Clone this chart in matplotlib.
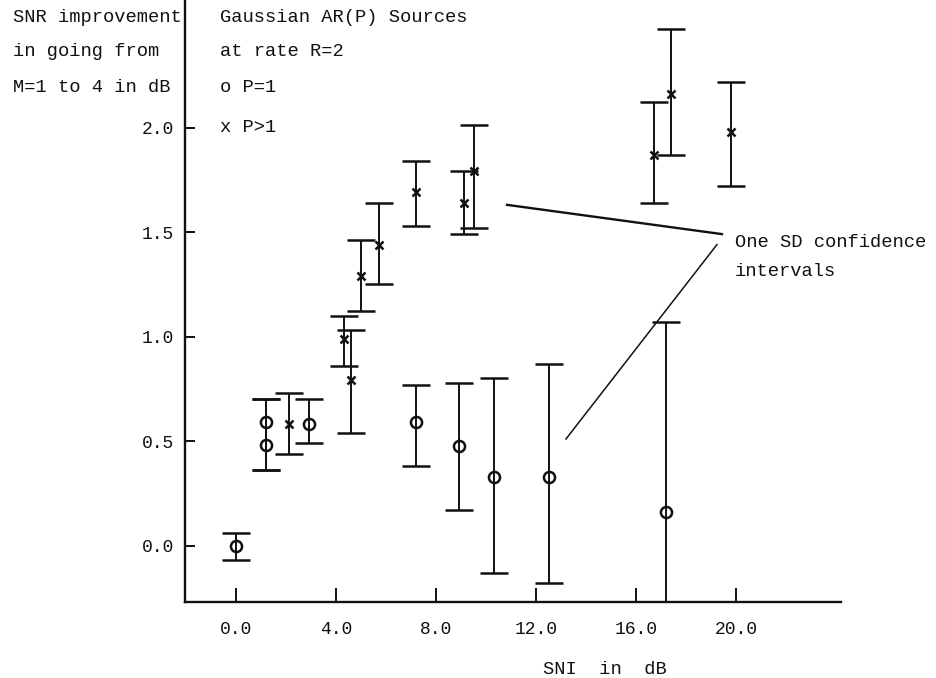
import matplotlib
matplotlib.use("Agg")
import matplotlib.pyplot as plt
from matplotlib.ticker import FixedLocator, FormatStrFormatter

plt.rcParams["font.family"] = ["Liberation Mono", "DejaVu Sans Mono"]

# P = 1 sources (circles): SNI in dB, SNR gain, one-SD interval
p1_sni = [0.0, 1.2, 1.2, 2.9, 7.2, 8.9, 10.3, 12.5, 17.2]
p1_gain = [0.0, 0.59, 0.48, 0.58, 0.59, 0.475, 0.33, 0.33, 0.16]
p1_low = [-0.07, 0.36, 0.36, 0.49, 0.38, 0.17, -0.13, -0.18, -0.30]
p1_high = [0.06, 0.70, 0.70, 0.70, 0.77, 0.78, 0.80, 0.87, 1.07]

# P > 1 sources (crosses)
pn_sni = [2.1, 4.3, 4.6, 5.0, 5.7, 7.2, 9.1, 9.5, 16.7, 17.4, 19.8]
pn_gain = [0.58, 0.99, 0.79, 1.29, 1.44, 1.69, 1.64, 1.79, 1.87, 2.16, 1.98]
pn_low = [0.44, 0.86, 0.54, 1.12, 1.25, 1.53, 1.49, 1.52, 1.64, 1.87, 1.72]
pn_high = [0.73, 1.10, 1.03, 1.46, 1.64, 1.84, 1.79, 2.01, 2.12, 2.47, 2.22]

x_ticks = [0.0, 4.0, 8.0, 12.0, 16.0, 20.0]
y_ticks = [0.0, 0.5, 1.0, 1.5, 2.0]

ink = "#111111"
W, H = 937, 678
fs = 13.5

fig = plt.figure(figsize=(W / 100, H / 100), dpi=100)
ax = fig.add_axes([185 / W, 1 - 602 / H, (841 - 185) / W, 602 / H])
ax.set_xlim(-2.04, 24.2)
ax.set_ylim(-0.27, 2.61)

for sni, gain, lo, hi, mk, ms in [
    (p1_sni, p1_gain, p1_low, p1_high, "o", 8),
    (pn_sni, pn_gain, pn_low, pn_high, "x", 6),
]:
    err = [[g - l for g, l in zip(gain, lo)], [h - g for g, h in zip(gain, hi)]]
    ax.errorbar(sni, gain, yerr=err, fmt=mk, color=ink, mfc="none", mec=ink,
                ms=ms, mew=1.8, elinewidth=1.4, capsize=10, capthick=2.3)

# pointers to the label
ax.plot([10.84, 19.44], [1.63, 1.49], color=ink, lw=1.7)
ax.plot([19.24, 13.2], [1.44, 0.51], color=ink, lw=1.1)
ax.text(19.96, 1.45, "One SD confidence", fontsize=fs, color=ink, va="center")
ax.text(19.96, 1.31, "intervals", fontsize=fs, color=ink, va="center")

for side in ["top", "right"]:
    ax.spines[side].set_visible(False)
for side in ["left", "bottom"]:
    ax.spines[side].set_linewidth(1.7)
    ax.spines[side].set_color(ink)

ax.xaxis.set_major_locator(FixedLocator(x_ticks))
ax.yaxis.set_major_locator(FixedLocator(y_ticks))
ax.xaxis.set_major_formatter(FormatStrFormatter("%.1f"))
ax.yaxis.set_major_formatter(FormatStrFormatter("%.1f"))
ax.tick_params(axis="x", direction="in", length=10, width=1.4, pad=14,
               labelsize=13, colors=ink)
ax.tick_params(axis="y", direction="in", length=7, width=1.4, pad=8,
               labelsize=13, colors=ink)
ax.set_xlabel("SNI  in  dB", fontsize=fs, color=ink, labelpad=16, x=0.64)

# header text, left of and right of the y axis
fig.text(13 / W, 1 - 17 / H, "SNR improvement", fontsize=fs, color=ink, va="center")
fig.text(13 / W, 1 - 52 / H, "in going from", fontsize=fs, color=ink, va="center")
fig.text(13 / W, 1 - 87 / H, "M=1 to 4 in dB", fontsize=fs, color=ink, va="center")
fig.text(220 / W, 1 - 17 / H, "Gaussian AR(P) Sources", fontsize=fs, color=ink, va="center")
fig.text(220 / W, 1 - 52 / H, "at rate R=2", fontsize=fs, color=ink, va="center")
fig.text(220 / W, 1 - 87 / H, "o P=1", fontsize=fs, color=ink, va="center")
fig.text(220 / W, 1 - 128 / H, "x P>1", fontsize=fs, color=ink, va="center")

fig.savefig("out.png", dpi=100)
